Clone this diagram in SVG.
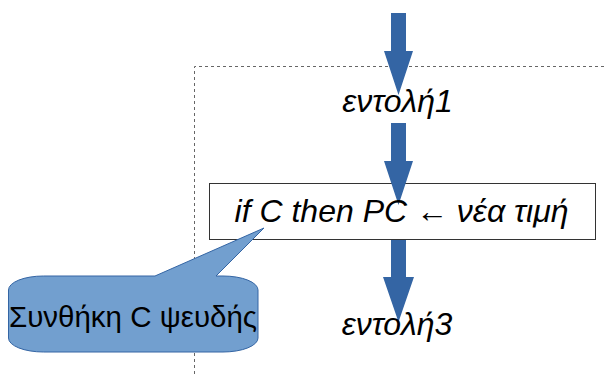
<svg xmlns="http://www.w3.org/2000/svg" width="606" height="374" viewBox="0 0 606 374">
<defs>
<style>
.t{font-family:"Liberation Sans",Arial,sans-serif;font-size:29.5px;fill:#000}
.i{font-style:italic;font-size:32px}
.arr{fill:#3465a4;stroke:none}
.frame{fill:none;stroke:#666;stroke-width:1;stroke-dasharray:3,3}
</style>
</defs>
<rect width="606" height="374" fill="#fff"/>
<g id="frame"><path class="frame" d="M194.5,374 V66.5 H606"/></g>
<g id="box">
<rect x="209.5" y="183.5" width="386" height="56" fill="#fff" stroke="#333" stroke-width="1"/>
</g>
<g id="connectors">
<path class="arr" d="M391,13 H406 V51 H413 L398.5,95 L384,51 H391 Z"/>
<path class="arr" d="M391,123 H406 V161 H413 L398.5,205 L384,161 H391 Z"/>
<path class="arr" d="M391,240 H406 V277 H414 L398.5,322 L383,277 H391 Z"/>
</g>
<g id="n1"><text class="t i" x="397.5" y="112" text-anchor="middle">εντολή1</text></g>
<g id="n2"><text class="t i" x="401.5" y="222" text-anchor="middle">if C then PC ← νέα τιμή</text></g>
<g id="n3"><text class="t i" x="397" y="335" text-anchor="middle">εντολή3</text></g>
<g id="callout">
<path d="M8.5,290 A35,14 0 0 1 43.5,276 H155 L264,228 L216,276 H223 A35,14 0 0 1 258,290 V338 A35,14 0 0 1 223,352 H43.5 A35,14 0 0 1 8.5,338 Z" fill="#729fcf" stroke="#3465a4" stroke-width="1"/>
<text class="t" x="133" y="327" text-anchor="middle">Συνθήκη C ψευδής</text>
</g>
</svg>
